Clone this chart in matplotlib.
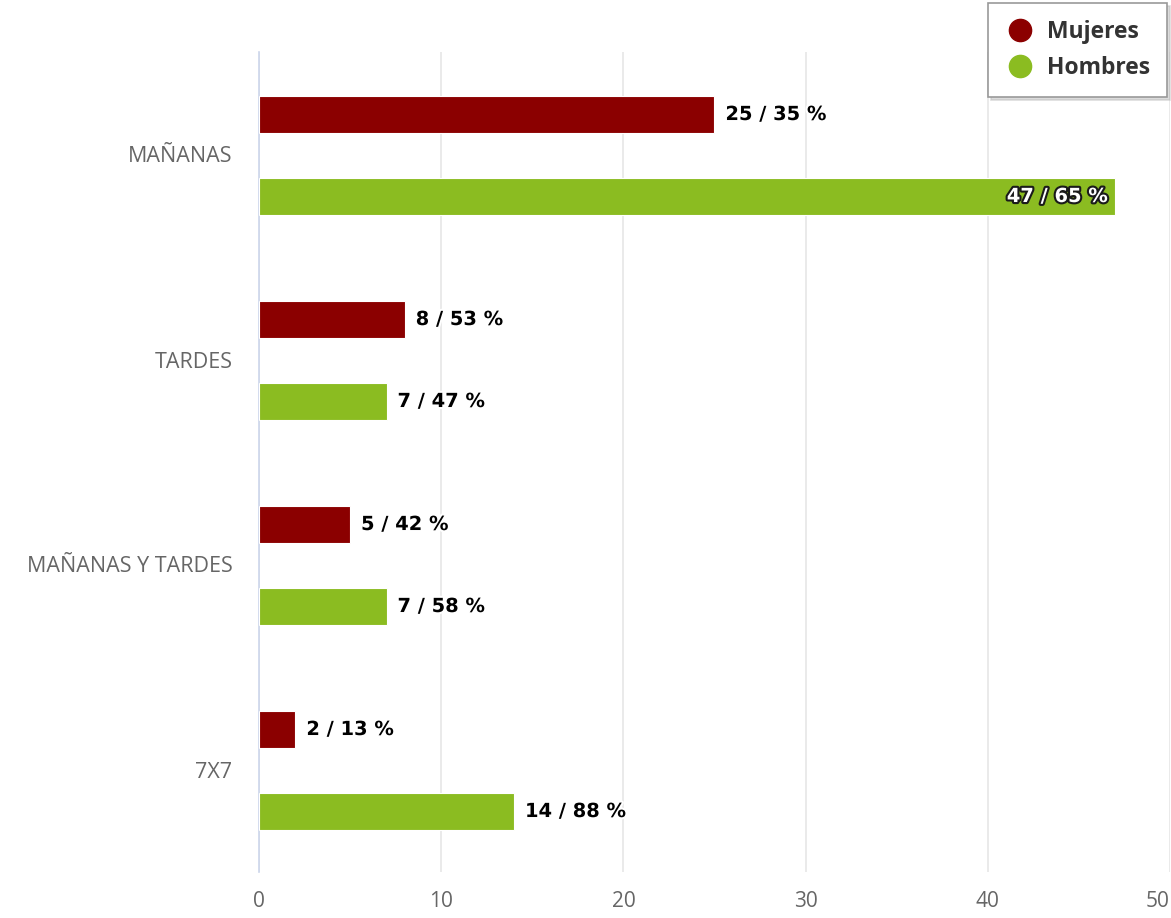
import matplotlib
matplotlib.use("Agg")
from matplotlib import pyplot as plt
from matplotlib.lines import Line2D
import matplotlib.patheffects as pe
import numpy as np

plt.rcParams['font.family'] = ['Open Sans', 'DejaVu Sans']

# horarios y número de personas por sexo
turnos = ["MAÑANAS", "TARDES", "MAÑANAS Y TARDES", "7X7"]
mujeres = [25, 8, 5, 2]
hombres = [47, 7, 7, 14]
pct_mujeres = [35, 53, 42, 13]
pct_hombres = [65, 47, 58, 88]
ticks_x = [0, 10, 20, 30, 40, 50]

rojo = "#8b0000"
verde = "#8bbc21"

fig = plt.figure(figsize=(11.71, 9.18), dpi=100)
ax = fig.add_axes([259 / 1171, 46 / 918, 911 / 1171, 820 / 918])

y = np.arange(len(turnos))
alto = 0.178
ax.barh(y - 0.195, mujeres, height=alto, color=rojo, edgecolor="white", linewidth=0.8, zorder=3)
ax.barh(y + 0.205, hombres, height=alto, color=verde, edgecolor="white", linewidth=0.8, zorder=3)

xmax = 50
fuente_etq = {"family": "DejaVu Sans", "size": 14, "weight": "bold"}
for i in range(len(turnos)):
    for val, pct, pos in ((mujeres[i], pct_mujeres[i], y[i] - 0.195), (hombres[i], pct_hombres[i], y[i] + 0.205)):
        texto = f"{val} / {pct} %"
        if val > xmax * 0.85:
            # la etiqueta no cabe fuera: va dentro de la barra
            ax.text(val - 0.4, pos, texto, ha="right", va="center", fontdict=fuente_etq,
                    color="white", zorder=5,
                    path_effects=[pe.withStroke(linewidth=3, foreground="#1a1a1a")])
        else:
            ax.text(val + 0.6, pos, texto, ha="left", va="center", fontdict=fuente_etq,
                    color="black", zorder=5,
                    path_effects=[pe.withStroke(linewidth=3, foreground="white")])

ax.set_xlim(0, xmax)
ax.set_ylim(3.5, -0.5)
ax.set_xticks(ticks_x)
ax.set_xticklabels([str(t) for t in ticks_x])
ax.get_xticklabels()[-1].set_horizontalalignment("right")
ax.set_yticks(y)
ax.set_yticklabels(turnos)
ax.xaxis.grid(True, color="#e6e6e6", linewidth=1.2, zorder=0)
ax.set_axisbelow(True)
for lado in ("top", "right", "bottom"):
    ax.spines[lado].set_visible(False)
ax.spines["left"].set_color("#ccd6eb")
ax.spines["left"].set_linewidth(1.2)
ax.tick_params(axis="both", length=0, labelcolor="#666666")
ax.tick_params(axis="x", pad=14, labelsize=15)
ax.tick_params(axis="y", pad=19, labelsize=15.5)

marcas = [Line2D([0], [0], marker="o", linestyle="", markersize=16, color=rojo),
          Line2D([0], [0], marker="o", linestyle="", markersize=16, color=verde)]
leg = fig.legend(marcas, ["Mujeres", "Hombres"], loc="upper right",
                 bbox_to_anchor=(1167 / 1171, 1 - 3 / 918), borderaxespad=0,
                 frameon=True, fancybox=False,
                 shadow={"color": "#bbbbbb"}, prop={"weight": "bold", "size": 16.5},
                 labelcolor="#333333", handletextpad=0.5, borderpad=0.75,
                 labelspacing=0.5, handlelength=1.3)
leg.get_frame().set_edgecolor("#999999")
leg.get_frame().set_linewidth(1.2)

plt.savefig("out.png", dpi=100)
plt.close()
